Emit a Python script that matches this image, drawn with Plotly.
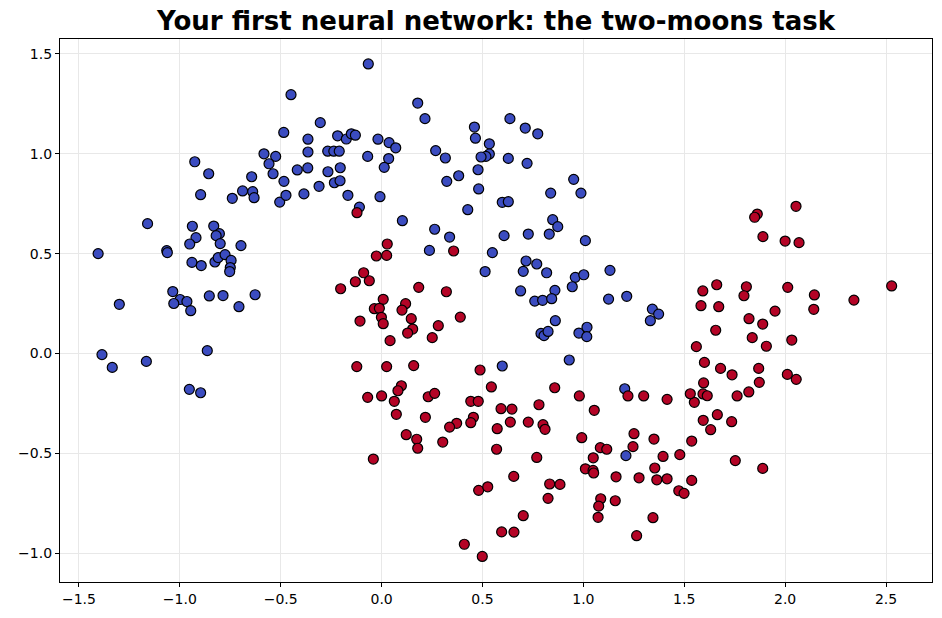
import plotly.graph_objects as go

blue_x = [-1.16,-1.405,-1.30,-1.386,-1.335,-1.166,-0.953,-0.897,-0.864,-0.938,-0.92,-0.951,-0.832,-0.804,-0.82,-0.80,-0.697,-1.065,-1.062,-0.94,-0.894,-0.826,-0.81,-0.776,-0.746,-0.75,-0.753,-1.035,-0.999,-1.03,-0.965,-0.946,-0.854,-0.786,-0.707,-0.627,
          -0.926,-0.857,-0.897,-0.74,-0.689,-0.644,-0.639,-0.632,-0.583,-0.525,-0.558,-0.538,-0.505,-0.485,
          -0.066,-0.449,0.179,0.215,-0.304,-0.365,-0.218,-0.175,-0.15,-0.13,-0.365,-0.267,-0.237,-0.21,-0.018,0.037,0.07,-0.069,0.035,0.013,0.268,0.316,0.46,0.465,0.534,0.534,0.517,0.493,0.478,0.382,0.323,0.481,0.598,0.427,-0.418,-0.366,-0.266,-0.205,-0.484,-0.234,-0.206,-0.31,-0.474,-0.385,-0.167,-0.008,-0.11,0.103,
          0.636,0.712,0.774,0.628,0.721,0.952,0.838,0.988,0.628,0.848,
          0.873,0.831,0.727,0.607,1.01,0.716,0.769,0.702,0.818,1.132,0.96,1.002,0.945,0.689,0.859,0.759,0.798,0.843,1.125,1.215,1.342,1.373,1.332,0.861,0.79,0.805,0.825,0.978,1.018,1.017,0.93,0.598,1.205,
          0.263,0.337,0.237,0.549,0.513,1.211]
blue_y = [0.65,0.50,0.246,-0.006,-0.07,-0.04,-0.18,-0.197,0.014,0.637,0.58,0.548,0.638,0.60,0.59,0.55,0.54,0.515,0.505,0.456,0.44,0.458,0.48,0.495,0.466,0.43,0.41,0.31,0.27,0.25,0.26,0.214,0.288,0.29,0.234,0.294,
          0.96,0.90,0.795,0.777,0.814,0.885,0.81,0.78,1.00,0.987,0.95,0.90,0.758,1.107,
          1.45,1.296,1.254,1.176,1.156,1.073,1.09,1.074,1.10,1.093,1.009,1.013,1.013,1.013,1.073,1.056,1.03,0.987,0.976,0.932,1.016,0.979,1.134,1.078,1.05,0.999,0.987,0.984,0.92,0.89,0.862,0.824,0.757,0.72,0.919,0.929,0.91,0.93,0.862,0.855,0.865,0.837,0.792,0.799,0.792,0.785,0.733,0.665,
          1.176,1.129,1.10,0.977,0.952,0.872,0.803,0.803,0.76,0.67,
          0.635,0.598,0.598,0.59,0.565,0.463,0.448,0.411,0.404,0.416,0.381,0.394,0.334,0.313,0.316,0.262,0.266,0.274,0.272,0.286,0.222,0.197,0.164,0.164,0.10,0.089,0.11,0.102,0.131,0.084,-0.033,-0.063,-0.177,
          0.622,0.583,0.516,0.505,0.41,-0.512]

red_x = [-0.122,
         0.028,-0.026,0.025,0.357,-0.089,-0.13,-0.061,-0.203,0.184,0.321,0.008,0.119,-0.036,-0.011,0.101,-0.001,0.147,-0.107,0.008,0.154,0.129,0.281,0.39,0.251,0.042,-0.123,0.025,0.159,0.488,0.544,0.098,0.081,-0.069,0.0,0.063,0.231,0.263,0.442,0.479,
         0.073,0.217,0.455,0.442,0.372,0.337,0.122,0.174,0.179,0.303,-0.041,0.592,0.573,0.57,0.481,0.526,0.595,0.41,0.499,
         0.646,0.78,1.054,0.638,0.727,0.80,0.81,0.769,0.992,1.251,1.246,1.35,1.537,1.594,1.631,1.664,1.084,1.116,1.049,1.395,1.478,1.01,1.048,1.051,0.655,1.162,1.276,1.354,1.364,1.415,1.537,0.833,0.884,0.825,1.473,1.499,1.086,1.076,1.158,1.073,1.345,0.702,0.656,1.264,1.55,
         0.858,0.98,1.221,1.299,1.415,1.53,1.593,1.614,1.596,1.60,1.56,1.656,1.583,1.592,1.661,1.671,1.68,
         1.89,2.0,2.069,1.808,1.796,2.013,2.145,2.528,2.341,2.142,1.95,1.821,1.889,1.837,1.907,2.033,1.737,1.869,1.872,2.011,2.055,1.82,1.762,
         2.054,1.862,1.849,
         1.735,1.753,1.889]
red_y = [0.705,
         0.548,0.488,0.491,0.513,0.404,0.359,0.364,0.324,0.331,0.309,0.271,0.249,0.224,0.226,0.217,0.181,0.174,0.162,0.149,0.122,0.102,0.139,0.182,0.079,0.064,-0.066,-0.066,-0.061,-0.083,-0.168,-0.162,-0.187,-0.22,-0.213,-0.24,-0.217,-0.2,-0.24,-0.24,
         -0.305,-0.32,-0.32,-0.347,-0.35,-0.369,-0.407,-0.43,-0.475,-0.444,-0.529,-0.277,-0.377,-0.48,-0.686,-0.668,-0.894,-0.956,-1.017,
         -0.279,-0.257,-0.285,-0.344,-0.344,-0.357,-0.38,-0.521,-0.422,-0.402,-0.467,-0.429,-0.439,-0.335,-0.382,-0.307,-0.472,-0.48,-0.523,-0.516,-0.507,-0.578,-0.586,-0.599,-0.616,-0.618,-0.623,-0.574,-0.633,-0.628,-0.636,-0.654,-0.656,-0.726,-0.688,-0.701,-0.728,-0.765,-0.738,-0.821,-0.823,-0.813,-0.895,-0.913,-0.245,
         -0.172,-0.213,-0.213,-0.213,-0.23,-0.202,-0.203,-0.212,-0.148,-0.045,0.034,0.116,0.239,0.313,0.344,0.234,-0.075,
         0.585,0.563,0.555,0.334,0.289,0.331,0.293,0.338,0.267,0.221,0.212,0.174,0.147,0.079,0.036,0.067,-0.107,-0.075,-0.145,-0.105,-0.13,-0.193,-0.213,
         0.737,0.698,0.682,
         -0.342,-0.537,-0.576]

x_ticks = [-1.5, -1.0, -0.5, 0.0, 0.5, 1.0, 1.5, 2.0, 2.5]
y_ticks = [-1.0, -0.5, 0.0, 0.5, 1.0, 1.5]

marker_common = dict(size=10, line=dict(color="black", width=1.2))

fig = go.Figure()
fig.add_trace(go.Scatter(x=blue_x, y=blue_y, mode="markers",
                         marker=dict(color="#3b4cc0", **marker_common), showlegend=False))
fig.add_trace(go.Scatter(x=red_x, y=red_y, mode="markers",
                         marker=dict(color="#b40426", **marker_common), showlegend=False))

axis_common = dict(showline=True, mirror=True, linecolor="black", linewidth=1.2,
                   ticks="outside", ticklen=4, tickcolor="black", tickwidth=1,
                   showgrid=True, gridcolor="#e8e8e8", gridwidth=1, zeroline=False,
                   tickfont=dict(family="DejaVu Sans", size=14, color="black"))

fig.update_layout(
    width=942, height=618,
    margin=dict(l=60, r=10, t=39, b=36),
    plot_bgcolor="white", paper_bgcolor="white",
    title=dict(text="<b>Your first neural network: the two-moons task</b>",
               x=0.5266, xanchor="center", y=1 - 21/618, yanchor="middle",
               font=dict(family="DejaVu Sans", size=26, color="black")),
    xaxis=dict(range=[-1.594, 2.728], tickvals=x_ticks, tickformat=".1f", **axis_common),
    yaxis=dict(range=[-1.145, 1.575], tickvals=y_ticks, tickformat=".1f", **axis_common),
)

fig.write_html("out.html")
